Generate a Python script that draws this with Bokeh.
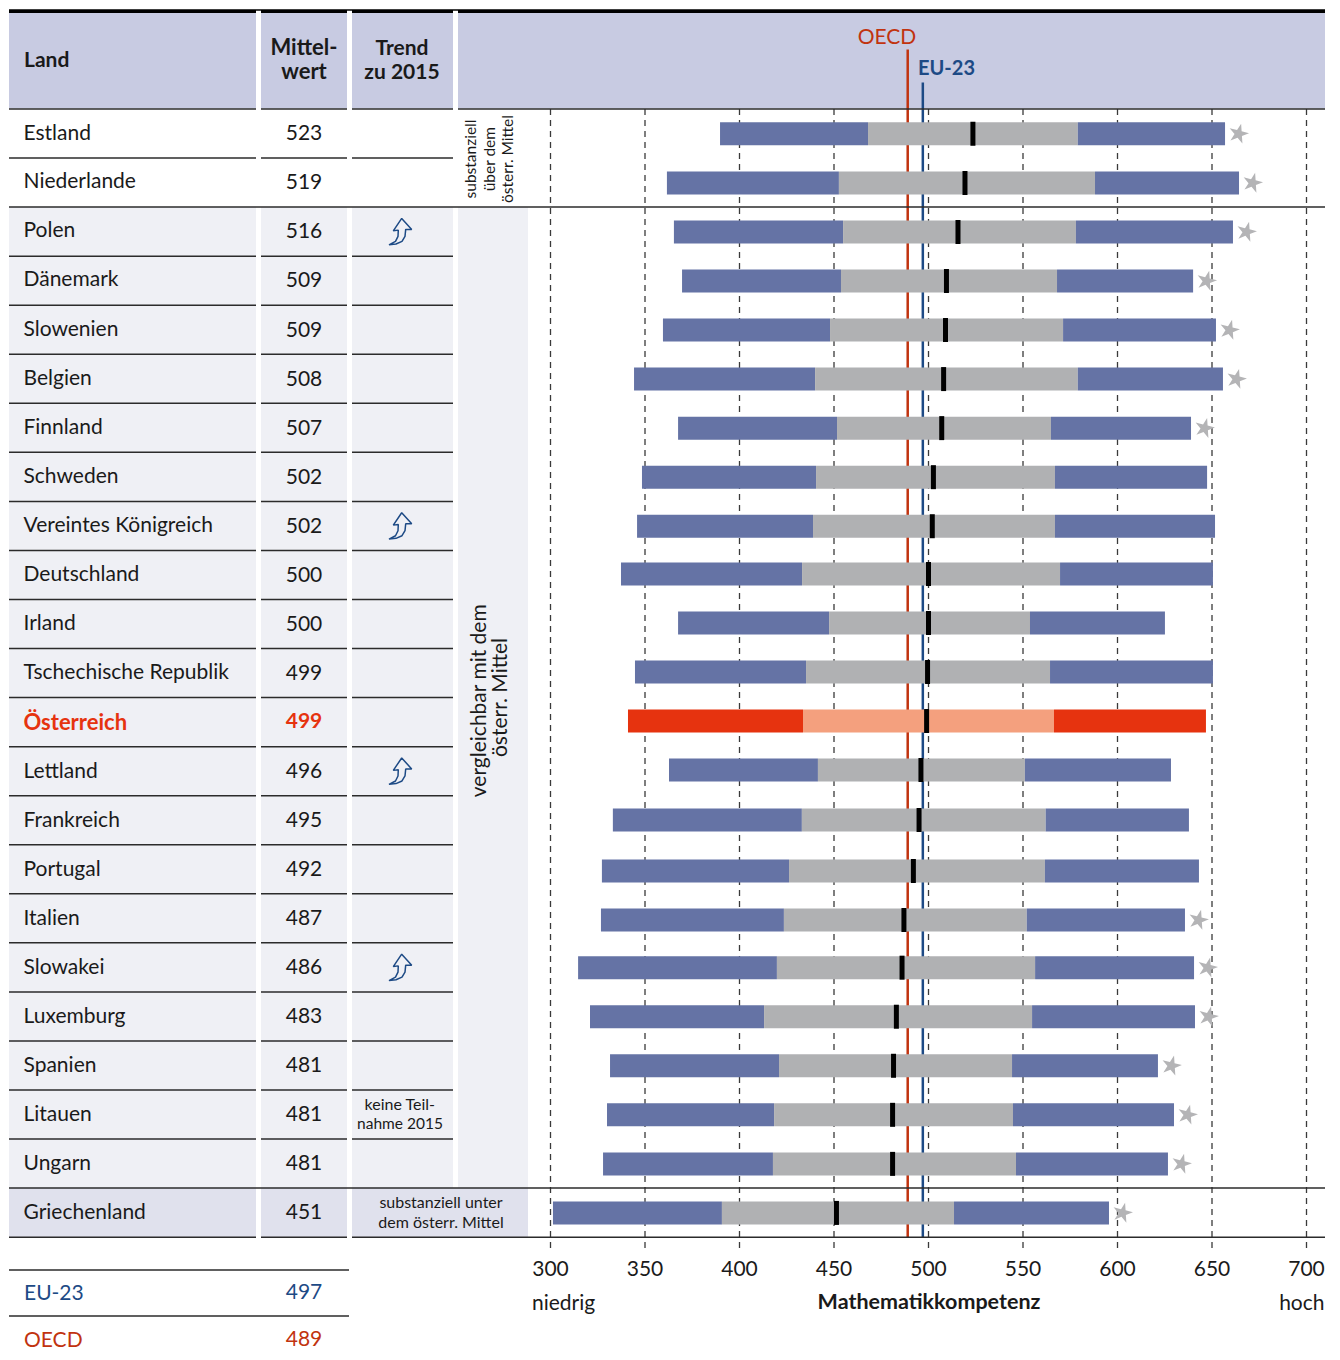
import math
from bokeh.plotting import figure
from bokeh.models import Range1d
from bokeh.core.properties import value
from bokeh.embed import file_html
from bokeh.resources import INLINE

countries = ["Estland","Niederlande","Polen","Dänemark","Slowenien","Belgien","Finnland","Schweden",
             "Vereintes Königreich","Deutschland","Irland","Tschechische Republik","Österreich","Lettland",
             "Frankreich","Portugal","Italien","Slowakei","Luxemburg","Spanien","Litauen","Ungarn","Griechenland"]
means_label = [523,519,516,509,509,508,507,502,502,500,500,499,499,496,495,492,487,486,483,481,481,481,451]
p5  = [389.7,361.6,365.3,369.6,359.5,344.2,367.5,348.4,345.8,337.3,367.5,344.7,341.0,362.7,333.0,327.2,326.7,314.6,320.9,331.5,329.9,327.8,301.3]
p25 = [468.0,452.6,454.8,453.7,447.9,440.0,451.6,440.5,438.9,433.1,447.4,435.2,433.6,441.5,433.0,426.2,423.5,419.8,413.0,420.9,418.3,417.7,390.7]
mean = [523.5,519.3,515.6,509.5,509.0,508.0,507.0,502.6,502.0,500.0,500.0,499.5,499.0,496.0,495.0,492.0,487.0,486.0,483.0,481.5,481.0,481.0,451.3]
p75 = [579.0,588.1,578.0,568.0,571.2,579.0,564.8,566.9,566.9,569.6,553.7,564.3,566.4,551.0,562.0,561.6,552.0,556.4,554.8,544.2,544.7,546.3,513.5]
p95 = [656.9,664.3,661.1,640.0,652.1,655.8,638.9,647.4,651.6,650.5,625.1,650.5,646.8,628.3,637.8,643.1,635.7,640.5,641.0,621.4,629.9,626.7,595.5]
star_rows = ["Estland","Niederlande","Polen","Dänemark","Slowenien","Belgien","Finnland","Italien","Slowakei","Luxemburg","Spanien","Litauen","Ungarn","Griechenland"]
trend_rows = ["Polen","Vereintes Königreich","Lettland","Slowakei"]
ticks = [300,350,400,450,500,550,600,650,700]
eu_value, oecd_value = 497, 489

FONT = value("Lato")
W, H = 1332, 1352
PX = 1.89
X300 = 550.5
SHIFT = 0.5
ROW0 = 108.5
RH = 49.05
def top(i): return ROW0 + RH*i
def cy(i): return top(i) + RH/2 + 0.3
# small per-row nudges of the bars and the country names, in pixels
BAR_DY = [0,0,0,0,0,0,0,0,0,-1.3,-1.3,-1.4,-1.4,-1.5,-0.5,1.4,1.4,0,0,0,0,0,0]
NAME_DY = [-2]+[-3]*11+[-1]+[-2]*10

p = figure(width=W, height=H, output_backend="svg", toolbar_location=None,
           x_range=Range1d(SHIFT, W+SHIFT), y_range=Range1d(H, 0), min_border=0,
           outline_line_color=None, background_fill_color="white", border_fill_color="white")
p.xaxis.visible = False; p.yaxis.visible = False; p.grid.visible = False
p.extra_x_ranges["score"] = Range1d(300+(SHIFT-X300)/PX, 300+(W+SHIFT-X300)/PX)

HEAD = "#c8cbe2"; LIGHT = "#eff0f5"; DARK = "#e0e1ed"; LINE = "#2b2b2b"
BLUE = "#6573a5"; GREY = "#b0b1b3"; RED = "#e6330f"; SALMON = "#f4a07e"
OECD = "#c1330f"; EU = "#1d4a85"; TXT = "#1a1a1a"; STAR = "#b4b4b6"
cols = [(9,256),(261,347),(352,453)]

def box(l, r, t, b, c):
    p.quad(left=l, right=r, top=t, bottom=b, fill_color=c, line_color=None)
def hline(l, r, y, c=LINE, w=1.5):
    p.line([l, r], [y, y], line_color=c, line_width=w)
def txt(x, y, s, size=21, color=TXT, align="left", bold=False, angle=0):
    p.text([x],[y],[s], text_font=FONT, text_font_size=f"{size}px", text_color=color, text_align=align,
           text_baseline="middle", text_font_style="bold" if bold else "normal", angle=angle)

# header
for l,r in cols + [(458,1325)]:
    box(l, r, 12.5, 108, HEAD)
box(9, 1325, 8.7, 12.5, "#000000")
for l,r in ((256,261),(347,352),(453,458)):
    box(l, r, 10.2, 108.5, "white")

# shaded bands
for l,r in cols:
    box(l, r, top(2), top(22), LIGHT)
    box(l, r, top(22), top(23), DARK)
box(458, 528, top(2), top(22), LIGHT)
box(453, 528, top(22), top(23), DARK)

# grid
for t in ticks:
    p.line([t,t],[108.5,1250], x_range_name="score", line_color="#3a3a3a", line_width=1.3, line_dash="6 5")

# reference lines
p.line([oecd_value]*2,[49,top(23)], x_range_name="score", line_color=OECD, line_width=2.5)
p.line([eu_value]*2,[82,top(23)], x_range_name="score", line_color=EU, line_width=2.5)

# row rules
for l,r in cols + [(458,1325)]:
    hline(l, r, 108.5)
for i in range(1, 22):
    if i == 2: continue
    for l,r in cols:
        hline(l, r, top(i))
hline(9, 1325, top(2)); hline(9, 1325, top(22))
for l,r in [(9,256),(261,347),(352,1325)]:
    hline(l, r, top(23))

# trend arrow outline (icon offsets in px)
ARROW_X = [0.7,-7.7,-2.7,-3.0,-5.5,-12,-5,1,4,4.7,10.7,0.7]
ARROW_Y = [-13,-0.6,-1.3,5,10,13.4,12.6,10,5,-2,-2,-13]

# bars
for i, c in enumerate(countries):
    y = cy(i)
    by = y + BAR_DY[i]
    outer, inner = (RED, SALMON) if c == "Österreich" else (BLUE, GREY)
    p.quad(left=[p5[i]], right=[p25[i]], top=[by-11.5], bottom=[by+11.5], x_range_name="score", fill_color=outer, line_color=None)
    p.quad(left=[p25[i]], right=[p75[i]], top=[by-11.5], bottom=[by+11.5], x_range_name="score", fill_color=inner, line_color=None)
    p.quad(left=[p75[i]], right=[p95[i]], top=[by-11.5], bottom=[by+11.5], x_range_name="score", fill_color=outer, line_color=None)
    p.rect(x=[mean[i]], y=[by], width=5, width_units="screen", height=24, x_range_name="score", fill_color="black", line_color=None)
    if c in star_rows:
        p.scatter(x=[p95[i]+13.5/PX], y=[by], x_range_name="score", marker="star", size=21, angle=-0.25,
                  fill_color=STAR, line_color=None)
    col = RED if c == "Österreich" else TXT
    bold = c == "Österreich"
    txt(23.5, y+NAME_DY[i], c, 22 if bold else 21, col, bold=bold)
    txt(304, y-2 if bold else y-1, str(means_label[i]), 21, col, "center", bold=bold)
    if c in trend_rows:
        p.patch([401+a for a in ARROW_X],[y-0.5+b for b in ARROW_Y], fill_color=None, line_color=EU, line_width=1.5)

# header texts
txt(24, 57.5, "Land", 21, bold=True)
txt(304, 46, "Mittel-", 22, align="center", bold=True)
txt(304, 70, "wert", 22, align="center", bold=True)
txt(402, 46, "Trend", 21, align="center", bold=True)
txt(402, 70, "zu 2015", 21, align="center", bold=True)
txt(887, 35, "OECD", 21, OECD, "center")
txt(946.5, 66.5, "EU-23", 20, EU, "center", bold=True)

# side notes
txt(469.5, 158.5, "substanziell", 15.5, align="center", angle=math.pi/2)
txt(488.5, 158.5, "über dem", 15.5, align="center", angle=math.pi/2)
txt(506.5, 158.5, "österr. Mittel", 15.5, align="center", angle=math.pi/2)
txt(477, 700, "vergleichbar mit dem", 21, align="center", angle=math.pi/2)
txt(498, 697, "österr. Mittel", 21, align="center", angle=math.pi/2)
txt(400, 1103, "keine Teil-", 16, align="center")
txt(400, 1122, "nahme 2015", 15.5, align="center")
txt(441, 1201, "substanziell unter", 16, align="center")
txt(441, 1221, "dem österr. Mittel", 16, align="center")

# axis labels
for t in ticks:
    p.text([t],[1267.5],[str(t)], x_range_name="score", text_font=FONT, text_font_size="21px", text_color=TXT,
           text_align="center", text_baseline="middle")
txt(532, 1300.5, "niedrig", 21)
txt(929, 1300.5, "Mathematikkompetenz", 21.5, align="center", bold=True)
txt(1324.5, 1300.5, "hoch", 21, align="right")

# summary table
hline(9, 349, 1269.5); hline(9, 349, 1315.5)
txt(24, 1291, "EU-23", 21, EU); txt(304, 1291, str(eu_value), 21, EU, "center")
txt(24, 1338, "OECD", 21, OECD); txt(304, 1338, str(oecd_value), 21, OECD, "center")

open("out.html","w").write(file_html(p, INLINE))
